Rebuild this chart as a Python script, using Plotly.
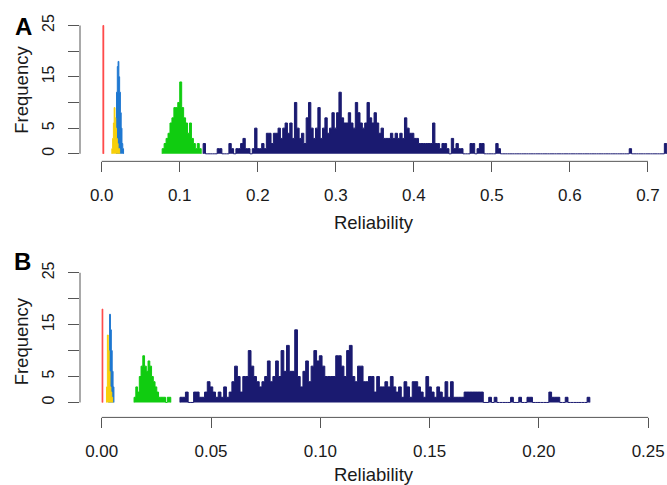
import numpy as np
import plotly.graph_objects as go

FONT = "Liberation Sans, Arial, sans-serif"
AXIS_GREY = "#555555"
TEXT = "#1a1a1a"

COLORS = {
    "red": "#ff4646",
    "blue": "#1f78d1",
    "yellow": "#f7cf0a",
    "green": "#10cc10",
    "navy": "#1a1a70",
}

# ---- panel A : bin start, bin width, counts per bin ----
a_red_start, a_red_width = 0.0016, 0.0010
a_red = [25]

a_blue_start, a_blue_width = 0.019, 0.001
a_blue = [12, 17, 18, 15, 12, 8, 5, 2, 1]

a_yellow_start, a_yellow_width = 0.013, 0.001
a_yellow = [1, 3, 6, 9, 7, 5, 3, 2, 1, 1]

a_green_start, a_green_width = 0.0775, 0.0025
a_green = [1, 2, 3, 4, 6, 7, 9, 9, 10, 14,
           9, 7, 6, 4, 6, 3, 2, 1, 2, 1]

a_navy_start, a_navy_width = 0.130, 0.003
a_navy = [2, 0, 0, 0, 0, 0, 1, 1, 0, 0,
          0, 2, 1, 0, 1, 1, 2, 3, 1, 1,
          0, 1, 5, 1, 1, 2, 1, 4, 4, 2,
          4, 4, 5, 3, 5, 6, 4, 6, 3, 10,
          5, 3, 4, 2, 7, 10, 5, 3, 5, 9,
          3, 5, 7, 4, 5, 8, 5, 8, 12, 7,
          6, 6, 8, 6, 5, 10, 8, 6, 5, 6,
          10, 7, 6, 8, 6, 4, 5, 3, 3, 3,
          4, 3, 4, 3, 4, 3, 7, 5, 4, 4,
          3, 3, 2, 2, 2, 2, 2, 2, 6, 2,
          2, 1, 2, 2, 1, 0, 3, 1, 2, 1,
          1, 0, 0, 0, 2, 2, 0, 1, 2, 2,
          0, 0, 0, 0, 0, 2, 1, 0, 0, 0,
          0, 0, 0, 0, 0, 0, 0, 0, 0, 0,
          0, 0, 0, 0, 0, 0, 0, 0, 0, 0,
          0, 0, 0, 0, 0, 0, 0, 0, 0, 0,
          0, 0, 0, 0, 0, 0, 0, 0, 0, 0,
          0, 0, 0, 0, 0, 0, 0, 0, 0, 0,
          0, 0, 1, 0, 0, 0, 0, 0, 0, 0,
          0, 0, 0, 0, 0, 0, 0, 2]

# ---- panel B ----
b_red_start, b_red_width = 0.0002, 0.0003
b_red = [18]

b_blue_start, b_blue_width = 0.0032, 0.0004
b_blue = [8, 17, 14, 10, 6, 3]

b_yellow_start, b_yellow_width = 0.0022, 0.0004
b_yellow = [3, 13, 10, 6, 3, 2, 1]

b_green_start, b_green_width = 0.0148, 0.0008
b_green = [1, 3, 2, 5, 7, 9, 7, 6, 8, 7,
           5, 4, 3, 2, 1, 1, 1, 1, 0, 1, 1]

b_navy_start, b_navy_width = 0.0358, 0.00125
b_navy = [1, 1, 2, 0, 0, 2, 2, 1, 1, 2,
          4, 3, 2, 1, 2, 1, 3, 1, 2, 4,
          7, 5, 2, 5, 5, 10, 7, 5, 4, 3,
          4, 5, 8, 4, 5, 8, 5, 10, 6, 11,
          6, 6, 14, 5, 3, 6, 8, 4, 7, 10,
          8, 9, 7, 5, 5, 5, 5, 9, 9, 7,
          5, 10, 11, 5, 4, 7, 7, 4, 4, 5,
          5, 2, 5, 3, 3, 4, 3, 5, 3, 2,
          3, 1, 4, 3, 1, 4, 4, 3, 2, 1,
          5, 3, 2, 1, 3, 2, 1, 4, 1, 4,
          1, 1, 1, 1, 2, 2, 2, 2, 2, 2,
          2, 0, 0, 1, 0, 1, 0, 0, 0, 0,
          0, 1, 0, 0, 1, 0, 0, 1, 1, 0,
          0, 0, 0, 0, 0, 2, 1, 1, 1, 0,
          0, 1, 0, 0, 0, 0, 0, 0, 0, 1]

a_ticks = [0.0, 0.1, 0.2, 0.3, 0.4, 0.5, 0.6, 0.7]
b_ticks = [0.00, 0.05, 0.10, 0.15, 0.20, 0.25]
freq_ticks = [0, 5, 10, 15, 20, 25]
freq_text = ["0", "5", "", "15", "", "25"]


def step_outline(start, width, counts):
    edges = start + width * np.arange(len(counts) + 1)
    x = np.concatenate([[edges[0]], edges])
    y = np.concatenate([[0], counts, [0]])
    return x, y


panels = [
    ("x", "y", [
        (a_red_start, a_red_width, a_red, "red"),
        (a_blue_start, a_blue_width, a_blue, "blue"),
        (a_yellow_start, a_yellow_width, a_yellow, "yellow"),
        (a_green_start, a_green_width, a_green, "green"),
        (a_navy_start, a_navy_width, a_navy, "navy"),
    ]),
    ("x2", "y2", [
        (b_red_start, b_red_width, b_red, "red"),
        (b_blue_start, b_blue_width, b_blue, "blue"),
        (b_yellow_start, b_yellow_width, b_yellow, "yellow"),
        (b_green_start, b_green_width, b_green, "green"),
        (b_navy_start, b_navy_width, b_navy, "navy"),
    ]),
]

fig = go.Figure()
for xa, ya, series in panels:
    for start, width, counts, name in series:
        x, y = step_outline(start, width, counts)
        fig.add_trace(go.Scatter(
            x=x, y=y, xaxis=xa, yaxis=ya,
            mode="lines", line=dict(shape="hv", color=COLORS[name], width=1),
            fill="tozeroy", fillcolor=COLORS[name],
            hoverinfo="skip", showlegend=False,
        ))

W, H = 667, 485


def px_x(px):
    return px / W


def px_y(py):
    return 1 - py / H


x_dom = [px_x(80), 1]

common_x = dict(
    ticks="outside", ticklen=10, tickcolor=AXIS_GREY, tickwidth=1,
    showline=False, showgrid=False, zeroline=False,
    tickfont=dict(family=FONT, size=17, color=TEXT),
    ticklabelstandoff=8,
)
common_y = dict(
    tickvals=freq_ticks, ticktext=freq_text, tickangle=-90,
    ticks="outside", ticklen=11, tickcolor=AXIS_GREY, tickwidth=1,
    showline=False, showgrid=False, zeroline=False,
    tickfont=dict(family=FONT, size=16, color=TEXT),
    ticklabelstandoff=8,
)
title_font = dict(family=FONT, size=18.5, color=TEXT)

fig.update_layout(
    width=W, height=H,
    margin=dict(l=0, r=0, t=0, b=0),
    paper_bgcolor="white", plot_bgcolor="white",
    showlegend=False,
    xaxis=dict(domain=x_dom, anchor="y", range=[-0.0278, 0.7244],
               tickvals=a_ticks, tickformat=".1f",
               title=dict(text="Reliability", font=title_font, standoff=12),
               **common_x),
    yaxis=dict(domain=[px_y(161), px_y(15)], anchor="x", range=[-1.47, 26.33],
               title=dict(text="Frequency", font=title_font, standoff=6),
               **common_y),
    xaxis2=dict(domain=x_dom, anchor="y2", range=[-0.00993, 0.2586],
                tickvals=b_ticks, tickformat=".2f",
                title=dict(text="Reliability", font=title_font, standoff=11),
                **common_x),
    yaxis2=dict(domain=[px_y(423), px_y(268)], anchor="x2", range=[-2.88, 26.32],
                title=dict(text="Frequency", font=title_font, standoff=6),
                **common_y),
)

# R-style axis lines spanning only first to last tick
for xa, ya, ticks in [("x", "y", a_ticks), ("x2", "y2", b_ticks)]:
    fig.add_shape(type="line", xref=f"{xa} domain", yref=ya, x0=0, x1=0,
                  y0=freq_ticks[0], y1=freq_ticks[-1], line=dict(color=AXIS_GREY, width=1))
    fig.add_shape(type="line", xref=xa, yref=f"{ya} domain", x0=ticks[0], x1=ticks[-1],
                  y0=0, y1=0, line=dict(color=AXIS_GREY, width=1))

for label, xpx, ypx in [("A", 23, 23), ("B", 22, 263)]:
    fig.add_annotation(text=f"<b>{label}</b>", xref="paper", yref="paper",
                       x=px_x(xpx), y=px_y(ypx), xanchor="center", yanchor="middle",
                       showarrow=False, font=dict(family=FONT, size=24, color="black"))

# drop the default 8px page margin so the figure fills the window exactly
fig.write_html("out.html", config={"displayModeBar": False},
               post_script="document.body.style.margin='0px';")
